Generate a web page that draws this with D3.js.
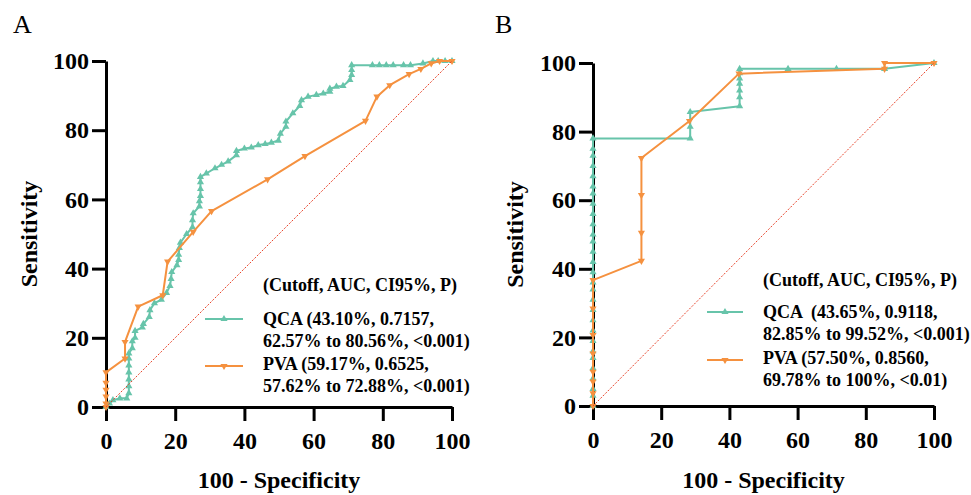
<!DOCTYPE html>
<html>
<head>
<meta charset="utf-8">
<script src="https://cdn.jsdelivr.net/npm/d3@7"></script>
<style>
  html, body { margin: 0; padding: 0; background: #fff; }
  svg { display: block; }
  text { font-family: "Liberation Serif", "Times New Roman", serif; fill: #000; }
</style>
</head>
<body>
<svg id="chart" width="971" height="495"></svg>
<script>
// ROC points: [100 - Specificity, Sensitivity] in percent
const qcaA = [[0,0],[1,1],[2,2],[4,2.5],[6,2.5],[6.6,4],[6.6,6],[6.6,8],[6.6,10],[6.6,12],[6.6,14],[6.6,15.5],
  [7.6,17],[7.6,19],[8.4,20],[8.4,22],[10.5,23],[10.8,24],[12.5,26],[12.7,28],[14,30],[16,31],[17.5,33],
  [18.5,35],[18.8,37],[19,39],[20.5,41],[21,42.5],[21,44],[21.2,46],[21.5,47.5],[23.3,50],[25,52],[25,54],
  [25.2,56],[27,58],[27,59.5],[27.3,61],[27.3,63],[27.3,65],[27.3,66.5],[29,67.5],[31.5,69],[33.4,70],
  [35.3,71],[37.7,72.8],[37.7,74],[40,74.7],[42,75],[44,75.7],[46,76],[47.8,76.4],[49.8,77],[50.4,79],
  [52,81],[52,82.5],[54,84.9],[56,87],[56.5,88.7],[58.4,89.7],[60.8,90.2],[62.8,90.6],[64.7,91.1],
  [64.7,92],[66.6,92.6],[68.5,92.8],[70.5,94.5],[71,96],[71,97.4],[71,98.8],[77,98.8],[79,98.8],
  [81,98.8],[83,98.8],[86,98.8],[88,98.8],[91.6,99.3],[94.5,100],[96,100],[98,100],[100,100]];
const pvaA = [[0,0],[0,1],[0,3],[0,5],[0,7],[0,10],[5.5,14],[5.5,18.8],[9.3,29],[16.4,32.3],[17.8,42],
  [25.2,50.6],[30.5,56.6],[46.7,65.8],[57.5,72.5],[75,82.7],[78.3,89.7],[82,93],[87.6,96.2],[91,97.7],
  [94,99.3],[96.4,100],[100,100]];
const qcaB = [[0,0],[0,3],[0,5],[0,8],[0,11],[0,14],[0,16],[0,19],[0,22],[0,25],[0,28],[0,31],[0,34],
  [0,36],[0,39],[0,42],[0,45],[0,48],[0,50],[0,53],[0,56],[0,59],[0,62],[0,64],[0,67],[0,70],[0,73],
  [0,75],[0,78],[28.5,78],[28.5,81.4],[28.5,85.7],[43,87.4],[43,90],[43,92],[43,94],[43,95.5],[43,97],
  [43,98.3],[57.2,98.3],[71.4,98.3],[85.5,98.3],[100,100]];
const pvaB = [[0,0],[0,3.7],[0,7.1],[0,10],[0,15.3],[0,20.7],[0,28.4],[0,36.7],[14.2,42.3],[14.2,50.5],
  [14.2,61.5],[14.2,72.3],[28.3,83.1],[42.8,96.9],[85.5,98.3],[85.5,100],[100,100]];

const tickValues = [0, 20, 40, 60, 80, 100];
const legendA = ["(Cutoff, AUC, CI95%, P)", "QCA (43.10%, 0.7157,", "62.57% to 80.56%, <0.001)",
  "PVA (59.17%, 0.6525,", "57.62% to 72.88%, <0.001)"];
const legendB = ["(Cutoff, AUC, CI95%, P)", "QCA  (43.65%, 0.9118,", "82.85% to 99.52%, <0.001)",
  "PVA (57.50%, 0.8560,", "69.78% to 100%, <0.01)"];

const TEAL = "#67c4aa";
const ORANGE = "#f5913f";
const DIAG = "#e8452c";

const svg = d3.select("#chart");

function drawPanel(cfg) {
  const x = d3.scaleLinear().domain([0, 100]).range([cfg.x0, cfg.x1]);
  const y = d3.scaleLinear().domain([0, 100]).range([cfg.y0, cfg.y1]);
  const g = svg.append("g");

  // axes
  const xAxis = d3.axisBottom(x).tickValues(tickValues).tickSize(14).tickSizeOuter(0).tickPadding(11);
  const yAxis = d3.axisLeft(y).tickValues(tickValues).tickSize(14).tickSizeOuter(0).tickPadding(3);
  const gx = g.append("g").attr("transform", `translate(0,${cfg.y0})`).call(xAxis);
  const gy = g.append("g").attr("transform", `translate(${cfg.x0},0)`).call(yAxis);
  [gx, gy].forEach(a => {
    a.select(".domain").attr("stroke", "#000").attr("stroke-width", 3);
    a.selectAll(".tick line").attr("stroke", "#000").attr("stroke-width", 3);
    a.selectAll(".tick text").attr("font-size", 24).attr("font-weight", "bold")
      .attr("font-family", '"Liberation Serif", "Times New Roman", serif').attr("fill", "#000");
  });

  // axis titles
  g.append("text").attr("x", (cfg.x0 + cfg.x1) / 2).attr("y", 488).attr("text-anchor", "middle")
    .attr("font-size", 24).attr("font-weight", "bold").text("100 - Specificity");
  g.append("text").attr("transform", `translate(${cfg.ytx},${(cfg.y0 + cfg.y1) / 2}) rotate(-90)`)
    .attr("text-anchor", "middle").attr("font-size", 24).attr("font-weight", "bold").text("Sensitivity");

  // panel letter
  g.append("text").attr("x", cfg.lx).attr("y", 33).attr("font-size", 26).text(cfg.letter);

  const line = d3.line().x(d => x(d[0])).y(d => y(d[1]));
  const up = d3.symbol().type(d3.symbolTriangle).size(22);

  function series(data, color, down) {
    g.append("path").datum(data).attr("d", line).attr("fill", "none")
      .attr("stroke", color).attr("stroke-width", 2).attr("stroke-linejoin", "round");
    g.selectAll(null).data(data).enter().append("path")
      .attr("d", up)
      .attr("transform", d => `translate(${x(d[0])},${y(d[1])})${down ? " rotate(180)" : ""}`)
      .attr("fill", color);
  }
  series(cfg.qca, TEAL, false);
  series(cfg.pva, ORANGE, true);

  // reference diagonal
  g.append("line").attr("x1", x(0)).attr("y1", y(0)).attr("x2", x(100)).attr("y2", y(100))
    .attr("stroke", DIAG).attr("stroke-width", 1).attr("stroke-dasharray", "2,1.5");

  // legend
  const L = cfg.legend;
  L.texts.forEach((t, i) => {
    g.append("text").attr("x", L.tx).attr("y", L.ty[i]).attr("font-size", 18).attr("font-weight", "bold")
      .style("white-space", "pre").text(t);
  });
  [[TEAL, false, L.sy[0]], [ORANGE, true, L.sy[1]]].forEach(([c, down, sy]) => {
    g.append("line").attr("x1", L.sx0).attr("x2", L.sx1).attr("y1", sy).attr("y2", sy)
      .attr("stroke", c).attr("stroke-width", 2);
    g.append("path").attr("d", up)
      .attr("transform", `translate(${(L.sx0 + L.sx1) / 2},${sy})${down ? " rotate(180)" : ""}`)
      .attr("fill", c);
  });
}

drawPanel({
  x0: 106, x1: 452, y0: 407, y1: 61, ytx: 37, lx: 13, letter: "A",
  qca: qcaA, pva: pvaA,
  legend: { texts: legendA, tx: 263, ty: [291, 325, 347, 370, 392], sx0: 205, sx1: 243, sy: [319, 366] }
});
drawPanel({
  x0: 593, x1: 934, y0: 406, y1: 63, ytx: 523, lx: 495, letter: "B",
  qca: qcaB, pva: pvaB,
  legend: { texts: legendB, tx: 763, ty: [286, 318, 340, 364, 386], sx0: 707, sx1: 743, sy: [312, 360] }
});
</script>
</body>
</html>
